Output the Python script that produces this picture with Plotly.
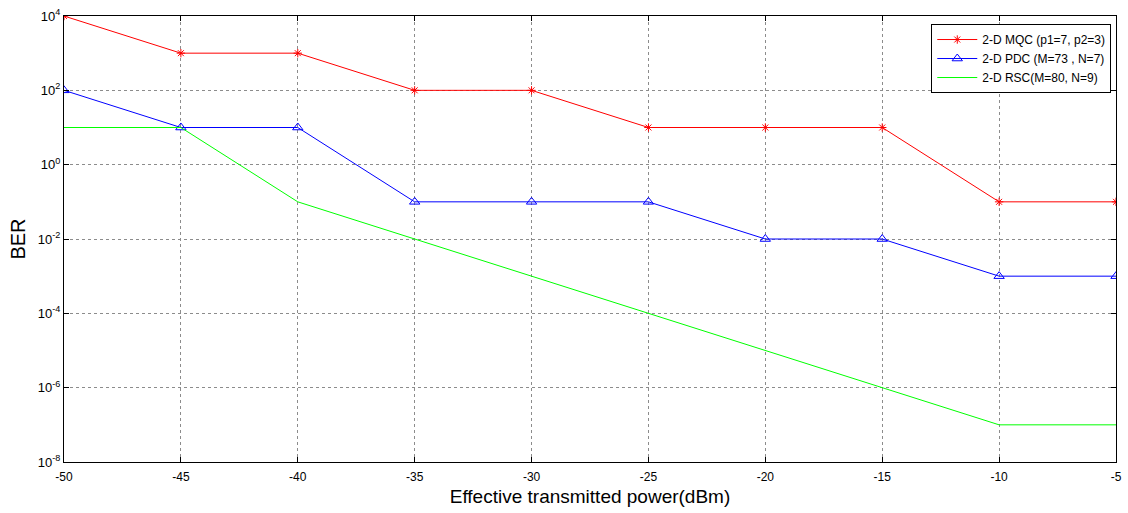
import plotly.graph_objects as go

power = [-50, -45, -40, -35, -30, -25, -20, -15, -10, -5]
ber_mqc = [1e4, 1e3, 1e3, 1e2, 1e2, 1e1, 1e1, 1e1, 1e-1, 1e-1]
ber_pdc = [1e2, 1e1, 1e1, 1e-1, 1e-1, 1e-1, 1e-2, 1e-2, 1e-3, 1e-3]
ber_rsc = [1e1, 1e1, 1e-1, 1e-2, 1e-3, 1e-4, 1e-5, 1e-6, 1e-7, 1e-7]

x_ticks = [-50, -45, -40, -35, -30, -25, -20, -15, -10, -5]
y_exps = [4, 2, 0, -2, -4, -6, -8]

fig = go.Figure()
fig.add_trace(go.Scatter(x=power, y=ber_mqc, mode="lines+markers",
                         name="2-D MQC (p1=7, p2=3)",
                         line=dict(color="#ff0000", width=1),
                         marker=dict(symbol="asterisk-open", size=7,
                                     line=dict(color="#ff0000", width=1))))
fig.add_trace(go.Scatter(x=power, y=ber_pdc, mode="lines+markers",
                         name="2-D PDC (M=73 , N=7)",
                         line=dict(color="#0000ff", width=1),
                         marker=dict(symbol="triangle-up-open", size=9,
                                     color="#0000ff",
                                     line=dict(color="#0000ff", width=1))))
fig.add_trace(go.Scatter(x=power, y=ber_rsc, mode="lines",
                         name="2-D RSC(M=80, N=9)",
                         line=dict(color="#00ff00", width=1)))

fig.update_layout(
    width=1128, height=513,
    margin=dict(l=64, r=6, t=16, b=51),
    paper_bgcolor="white", plot_bgcolor="white",
    font=dict(family="Liberation Sans, Arial, sans-serif", size=12, color="black"),
    legend=dict(x=0.9955, y=0.982, xanchor="right", yanchor="top",
                bgcolor="white", bordercolor="black", borderwidth=1,
                font=dict(size=12), tracegroupgap=0, itemwidth=40),
    showlegend=True,
)
fig.update_xaxes(range=[-50, -5], tickvals=x_ticks,
                 ticktext=[str(v) for v in x_ticks],
                 showgrid=True, gridcolor="#8c8c8c", griddash="dot", gridwidth=1,
                 showline=True, linecolor="black", linewidth=1, mirror="ticks",
                 ticks="inside", ticklen=5, tickcolor="black",
                 zeroline=False, ticklabelstandoff=4,
                 title=dict(text="Effective transmitted power(dBm)",
                            font=dict(size=19), standoff=6),
                 tickfont=dict(size=12))
fig.update_yaxes(type="log", range=[-8, 4],
                 tickvals=[10.0 ** e for e in y_exps],
                 ticktext=["10<sup>%d</sup>" % e for e in y_exps],
                 showgrid=True, gridcolor="#8c8c8c", griddash="dot", gridwidth=1,
                 showline=True, linecolor="black", linewidth=1, mirror="ticks",
                 ticks="inside", ticklen=5, tickcolor="black",
                 zeroline=False,
                 title=dict(text="BER", font=dict(size=20), standoff=6),
                 tickfont=dict(size=13))

fig.write_html("out.html")
